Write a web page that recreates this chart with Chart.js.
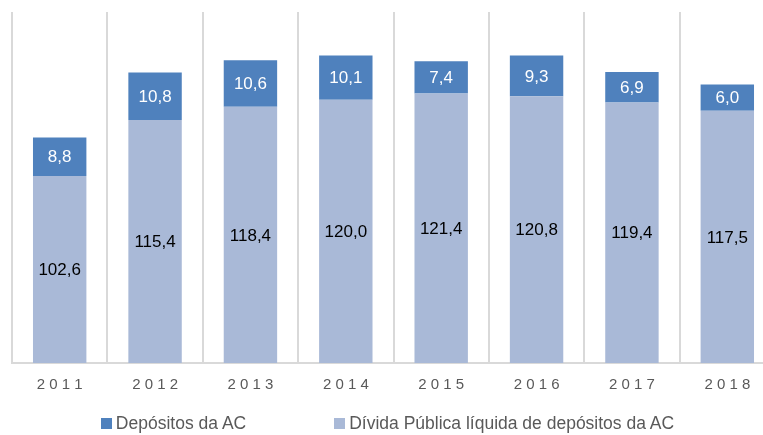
<!DOCTYPE html>
<html>
<head>
<meta charset="utf-8">
<script src="https://cdn.jsdelivr.net/npm/chart.js@4/dist/chart.umd.min.js"></script>
<style>
    html, body { margin: 0; padding: 0; background: #fff; overflow: hidden; }
    #wrap { position: relative; width: 775px; height: 435px; }
    #legend {
        position: absolute; left: 0; width: 775px; top: 413px;
        text-align: center; font: 17.5px "Liberation Sans", sans-serif; color: #595959;
    }
    #legend span.item { margin: 0 44px; white-space: nowrap; }
    #legend span.box { display: inline-block; width: 11px; height: 11px; margin-right: 4px; }
</style>
</head>
<body>
<div id="wrap">
    <canvas id="debtChart" width="775" height="435"></canvas>
    <div id="legend"></div>
</div>
<script>
const years = ["2011", "2012", "2013", "2014", "2015", "2016", "2017", "2018"];
const seriesNames = ["Dívida Pública líquida de depósitos da AC", "Depósitos da AC"];
const netDebt = [102.6, 115.4, 118.4, 120.0, 121.4, 120.8, 119.4, 117.5];
const deposits = [8.8, 10.8, 10.6, 10.1, 7.4, 9.3, 6.9, 6.0];
const seriesColors = ["#A9B9D7", "#4F81BD"];
const labelColors = ["#000000", "#ffffff"];

document.addEventListener("DOMContentLoaded", function () {
    // Value labels in the middle of the visible part of each bar segment
    const barLabels = {
        id: "barLabels",
        afterDatasetsDraw(chart) {
            const ctx = chart.ctx;
            const bottom = chart.chartArea.bottom;
            ctx.save();
            ctx.font = "17px 'Liberation Sans', sans-serif";
            ctx.textAlign = "center";
            ctx.textBaseline = "middle";
            chart.data.datasets.forEach((ds, i) => {
                chart.getDatasetMeta(i).data.forEach((bar, j) => {
                    ctx.fillStyle = labelColors[i];
                    const mid = (bar.y + Math.min(bar.base, bottom)) / 2;
                    ctx.fillText(ds.data[j].toFixed(1).replace(".", ","), bar.x, mid + 1);
                });
            });
            ctx.restore();
        }
    };

    const ctx = document.getElementById("debtChart").getContext("2d");
    new Chart(ctx, {
        type: "bar",
        data: {
            labels: years.map(y => y.split("").join(" ")),
            datasets: [
                { label: seriesNames[0], data: netDebt, backgroundColor: seriesColors[0] },
                { label: seriesNames[1], data: deposits, backgroundColor: seriesColors[1] }
            ]
        },
        options: {
            responsive: false,
            animation: false,
            layout: { padding: { left: 12, top: 12, right: 0, bottom: 28 } },
            datasets: { bar: { barPercentage: 0.56, categoryPercentage: 1 } },
            plugins: {
                legend: { display: false },
                tooltip: { enabled: false }
            },
            scales: {
                x: {
                    stacked: true,
                    grid: { display: true, offset: true, color: "#d9d9d9", lineWidth: 2, drawTicks: false },
                    border: { display: true, color: "#d9d9d9", width: 2 },
                    ticks: {
                        color: "#595959",
                        padding: 13,
                        font: { family: "'Liberation Sans', sans-serif", size: 15 }
                    }
                },
                y: {
                    stacked: true,
                    display: false,
                    min: 60,
                    max: 140
                }
            }
        },
        plugins: [barLabels]
    });

    // Legend below the plot, in the order shown in the reference
    const legend = document.getElementById("legend");
    [1, 0].forEach(i => {
        const item = document.createElement("span");
        item.className = "item";
        item.innerHTML = `<span class="box" style="background:${seriesColors[i]}"></span>${seriesNames[i]}`;
        legend.appendChild(item);
    });
});
</script>
</body>
</html>
